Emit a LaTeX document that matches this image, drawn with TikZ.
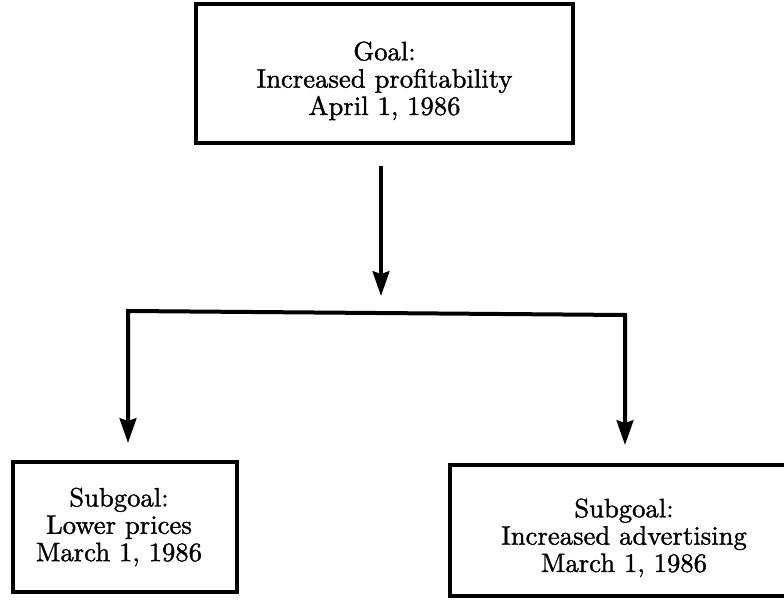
\documentclass[tikz,border=0pt]{standalone}
\usepackage{fontspec}
\usetikzlibrary{arrows.meta}
% a slightly heavier Latin Modern for the box texts
\newfontfamily\boxfont{lmroman10-regular}[Extension=.otf, FakeBold=1.2]
% three centred lines, lowered by #1 without changing the box size
\newcommand\boxlines[4]{\raisebox{#1}[\height][\depth]{\begin{tabular}{@{}c@{}}#2\\ #3\\ #4\end{tabular}}}
\begin{document}
\begin{tikzpicture}[x=0.75pt, y=-0.75pt,
  box/.style={draw, line width=2.8pt, align=center, inner sep=0pt,
    font=\boxfont\fontsize{20}{20.5}\selectfont},
  link/.style={line width=3pt, line join=miter},
  arr/.style={link, -{Stealth[length=18.5pt, width=12.5pt, inset=2pt]}},
  arrs/.style={link, {Stealth[length=18.5pt, width=12.5pt, inset=2pt]}-{Stealth[length=18.5pt, width=12.5pt, inset=2pt]}}]
% page frame
\clip (0,0) rectangle (784,602);

% goal and subgoals
\node[box, minimum width=282.75pt, minimum height=104.25pt] (goal) at (384.5,73.5)
  {\boxlines{-6.5pt}{Goal:}{Increased profitability}{April 1, 1986}};
\node[box, minimum width=168pt, minimum height=97.5pt] (sub1) at (125,527)
  {\boxlines{-1pt}{Subgoal:}{Lower prices}{March 1, 1986}\hspace{9pt}};
\node[box, minimum width=261pt, minimum height=98.25pt] (sub2) at (624,530.5)
  {\boxlines{-6.5pt}{Subgoal:}{Increased advertising}{March 1, 1986}};

% connector ends
\coordinate (down0) at (381,166);
\coordinate (down1) at (381,296);
\coordinate (barL) at (128,311);
\coordinate (barR) at (625,315);
\coordinate (tipL) at (128,443);
\coordinate (tipR) at (625,445);

\draw[arr] (down0) -- (down1);
\draw[arrs] (tipL) -- (barL) -- (barR) -- (tipR);
\end{tikzpicture}
\end{document}
